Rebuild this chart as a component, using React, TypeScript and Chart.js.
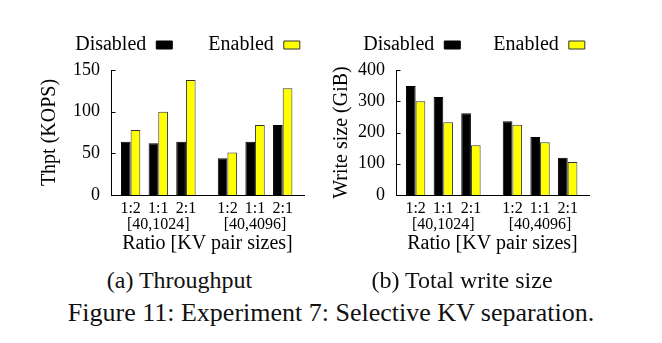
import React, { useEffect, useRef } from 'react';
import { Chart, registerables } from 'chart.js';

Chart.register(...registerables);

// ---- data ----
const ratios = ['1:2', '1:1', '2:1'];
const sizeRanges = ['[40,1024]', '[40,4096]'];
const seriesNames = ['Disabled', 'Enabled'];
const thptDisabled = [64, 62, 64, 44, 64, 84];
const thptEnabled = [78, 100, 138, 51, 84, 128];
const writeDisabled = [349, 314, 262, 236, 186, 119];
const writeEnabled = [300, 233, 159, 225, 169, 106];
const thptTicks = [0, 50, 100, 150];
const writeTicks = [0, 100, 200, 300, 400];

const FONT = '"Liberation Serif", "Times New Roman", serif';
const GROUP_GAP = 0.5;

// x slot of each (size range, ratio) pair on the linear category axis
const slots: number[] = [];
const slotLabels: (string | string[])[] = [];
sizeRanges.forEach((range, g) => {
  ratios.forEach((r, i) => {
    slots.push(g * (ratios.length + GROUP_GAP) + i);
    slotLabels.push(i === Math.floor(ratios.length / 2) ? [r, range] : r);
  });
});

const innerTicks = {
  id: 'innerTicks',
  afterDraw(chart: any) {
    const ys = chart.scales.y;
    const ctx = chart.ctx;
    const x0 = Math.round(chart.chartArea.left) + 0.5;
    ctx.save();
    ctx.strokeStyle = '#000';
    ctx.lineWidth = 1;
    ys.ticks.forEach((t: any) => {
      const py = Math.round(ys.getPixelForValue(t.value)) + 0.5;
      ctx.beginPath();
      ctx.moveTo(x0, py);
      ctx.lineTo(x0 + 4, py);
      ctx.stroke();
    });
    ctx.restore();
  },
};

type PanelProps = {
  left: number;
  top: number;
  width: number;
  height: number;
  yWidth: number;
  rightSpace: number;
  yTitle: string;
  yTitleShift: number;
  yMax: number;
  yTicks: number[];
  legendPad: number;
  disabled: number[];
  enabled: number[];
};

function Panel(p: PanelProps) {
  const ref = useRef<HTMLCanvasElement | null>(null);
  useEffect(() => {
    if (!ref.current) return;
    const chart = new Chart(ref.current, {
      type: 'bar',
      data: {
        datasets: [
          {
            label: seriesNames[0],
            data: p.disabled.map((v, i) => ({ x: slots[i], y: v })),
            backgroundColor: '#000000',
            borderColor: '#000000',
            borderWidth: 1,
          },
          {
            label: seriesNames[1],
            data: p.enabled.map((v, i) => ({ x: slots[i], y: v })),
            backgroundColor: '#ffff00',
            borderColor: '#333333',
            borderWidth: 1,
          },
        ],
      },
      options: {
        animation: false,
        responsive: false,
        devicePixelRatio: 1,
        layout: { padding: 0 },
        datasets: { bar: { categoryPercentage: 0.7, barPercentage: 1.0 } },
        scales: {
          x: {
            type: 'linear',
            offset: false,
            min: -0.71,
            max: 6.27,
            grid: { display: false, drawTicks: false, offset: false },
            border: { display: true, color: '#000', width: 1 },
            afterBuildTicks: (s: any) => {
              s.ticks = slots.map((v) => ({ value: v }));
            },
            ticks: {
              autoSkip: false,
              maxRotation: 0,
              padding: 5,
              color: '#000',
              font: { family: FONT, size: 16, lineHeight: 1.05 },
              callback: (v: any) => {
                const k = slots.indexOf(Number(v));
                return k >= 0 ? slotLabels[k] : '';
              },
            },
            title: {
              display: true,
              text: 'Ratio [KV pair sizes]',
              color: '#000',
              font: { family: FONT, size: 20, lineHeight: 1.2 },
              padding: 0,
            },
            afterFit: (s: any) => {
              s.height = 61;
            },
          },
          y: {
            min: 0,
            max: p.yMax,
            grid: { display: false, drawTicks: false },
            border: { display: true, color: '#000', width: 1 },
            afterBuildTicks: (s: any) => {
              s.ticks = p.yTicks.map((v) => ({ value: v }));
            },
            ticks: {
              padding: 11,
              color: '#000',
              font: { family: FONT, size: 18 },
            },
            title: {
              display: true,
              text: p.yTitle,
              color: '#000',
              font: { family: FONT, size: 20, lineHeight: 1.2 },
              padding: { top: p.yTitleShift, bottom: 0 },
            },
            afterFit: (s: any) => {
              s.width = p.yWidth;
            },
          },
          yRight: {
            type: 'linear',
            position: 'right',
            display: true,
            grid: { display: false, drawTicks: false },
            border: { display: false },
            ticks: { display: false },
            title: { display: false },
            afterFit: (s: any) => {
              s.width = p.rightSpace;
            },
          },
        },
        plugins: {
          legend: {
            display: true,
            position: 'top',
            align: 'center',
            rtl: true,
            reverse: true,
            labels: {
              boxWidth: 16,
              boxHeight: 8,
              padding: p.legendPad,
              color: '#000',
              font: { family: FONT, size: 20 },
            },
          },
          title: {
            display: true,
            text: '',
            weight: 500,
            padding: 0,
            font: { size: 5, lineHeight: 1 },
          },
          tooltip: { enabled: false },
        },
      } as any,
      plugins: [innerTicks],
    });
    return () => chart.destroy();
  }, []);
  return (
    <div style={{ position: 'absolute', left: p.left, top: p.top, width: p.width, height: p.height }}>
      <canvas ref={ref} width={p.width} height={p.height} style={{ display: 'block', width: p.width, height: p.height }} />
    </div>
  );
}

const capStyle: React.CSSProperties = {
  position: 'absolute',
  fontFamily: FONT,
  color: '#111',
  lineHeight: 1,
  whiteSpace: 'nowrap',
  textAlign: 'center',
};

export default function App() {
  return (
    <div style={{ position: 'fixed', left: 0, top: 0, width: 662, height: 343, background: '#fff', overflow: 'hidden' }}>
      <Panel
        left={33}
        top={-1}
        width={309}
        height={257}
        yWidth={78}
        rightSpace={38}
        yTitle="Thpt (KOPS)"
        yTitleShift={5}
        yMax={150}
        yTicks={thptTicks}
        legendPad={36}
        disabled={thptDisabled}
        enabled={thptEnabled}
      />
      <Panel
        left={324}
        top={2}
        width={300}
        height={254}
        yWidth={72}
        rightSpace={35}
        yTitle="Write size (GiB)"
        yTitleShift={6}
        yMax={400}
        yTicks={writeTicks}
        legendPad={33}
        disabled={writeDisabled}
        enabled={writeEnabled}
      />
      <div style={{ ...capStyle, left: 79.5, width: 200, top: 268, fontSize: 24 }}>(a) Throughput</div>
      <div style={{ ...capStyle, left: 362, width: 200, top: 268, fontSize: 24 }}>(b) Total write size</div>
      <div style={{ ...capStyle, left: 31, width: 600, top: 300, fontSize: 26 }}>
        Figure 11: Experiment 7: Selective KV separation.
      </div>
    </div>
  );
}
